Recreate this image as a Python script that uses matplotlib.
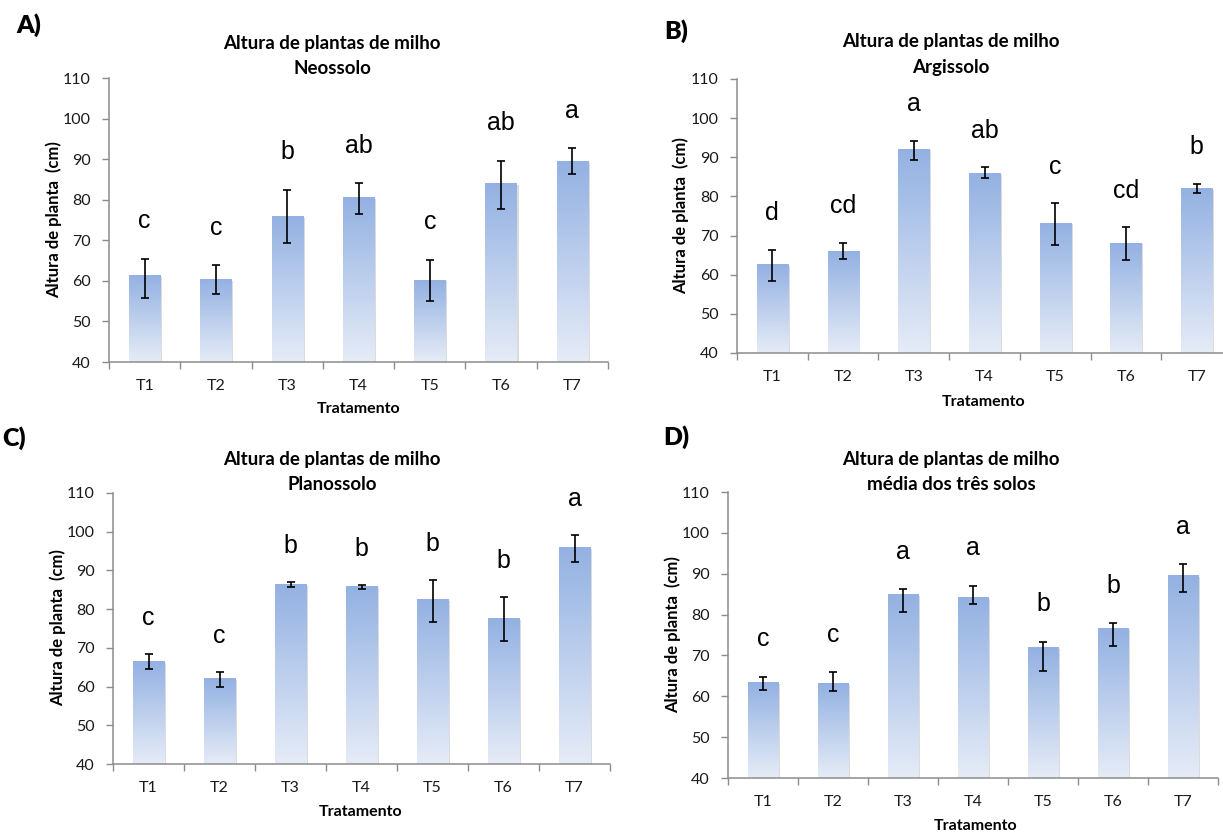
import numpy as np
import matplotlib
matplotlib.use("Agg")
import matplotlib.pyplot as plt
from matplotlib.colors import LinearSegmentedColormap

# data (means, upper and lower error lengths, letters)
trat = ["T1", "T2", "T3", "T4", "T5", "T6", "T7"]

media_a = [61.2, 60.4, 75.9, 80.6, 60.2, 84.0, 89.4]
sup_a = [4.3, 3.5, 6.6, 3.5, 5.0, 5.6, 3.3]
inf_a = [5.4, 3.6, 6.6, 4.0, 5.2, 6.4, 3.1]
letras_a = ["c", "c", "b", "ab", "c", "ab", "a"]

media_b = [62.7, 66.0, 92.1, 85.9, 73.2, 68.1, 82.1]
sup_b = [3.7, 2.2, 2.1, 1.5, 5.0, 4.0, 1.2]
inf_b = [4.4, 1.9, 2.8, 1.3, 5.6, 4.3, 1.1]
letras_b = ["d", "cd", "a", "ab", "c", "cd", "b"]

media_c = [66.5, 62.1, 86.3, 85.9, 82.5, 77.6, 95.9]
sup_c = [1.8, 1.7, 0.6, 0.4, 4.9, 5.6, 3.2]
inf_c = [2.0, 2.2, 0.5, 0.7, 5.8, 5.7, 3.7]
letras_c = ["c", "c", "b", "b", "b", "b", "a"]

media_d = [63.3, 63.1, 84.9, 84.1, 71.9, 76.5, 89.5]
sup_d = [1.4, 2.8, 1.3, 3.0, 1.5, 1.4, 2.8]
inf_d = [1.7, 1.8, 4.3, 1.6, 5.6, 4.2, 4.0]
letras_d = ["c", "c", "a", "a", "b", "b", "a"]

subtitulos = ["Neossolo", "Argissolo", "Planossolo", "média dos três solos"]

W, H = 1223, 832
fig = plt.figure(figsize=(W / 100, H / 100), dpi=100)

cmap = LinearSegmentedColormap.from_list("grad", ["#e6ecf7", "#93b1e2"])
grad = np.linspace(0, 1, 256).reshape(-1, 1)

FONT = "Lato"
GRAY = "#8c8c8c"


def px(x, y):
    return x / W, 1 - y / H


def painel(rect, media, sup, inf, letras, sub, tag, tag_xy, title_xy, ylab_xy, xlab_xy):
    ax = fig.add_axes(rect)
    x = np.arange(len(trat))
    bars = ax.bar(x, media, width=0.44, facecolor="none", edgecolor="none")
    for b in bars:
        x0, w, h = b.get_x(), b.get_width(), b.get_height()
        # soft shadow behind each bar
        ax.bar(x0 + w / 2 + 0.025, h - 40, bottom=40 - 0.35, width=w,
               color="#9a9a9a", alpha=0.35, zorder=1)
        ax.imshow(grad, extent=(x0, x0 + w, 40, h), origin="lower",
                  cmap=cmap, aspect="auto", zorder=2)
    ax.errorbar(x, media, yerr=[inf, sup], fmt="none", ecolor="black",
                elinewidth=1.2, capsize=3.2, capthick=1.2, zorder=4)
    for xi, m, s, l in zip(x, media, sup, letras):
        ax.text(xi, m + s + 7.5, l, ha="center", va="baseline",
                fontsize=18, family="Liberation Sans")
    ax.set_xlim(-0.5, 6.5)
    ax.set_ylim(40, 110)
    ax.set_yticks(range(40, 111, 10))
    ax.set_xticks(np.arange(-0.5, 7, 1))
    ax.set_xticklabels([])
    ax.set_xticks(x, minor=True)
    ax.set_xticklabels(trat, minor=True)
    ax.tick_params(axis="x", which="minor", length=0, pad=12)
    ax.tick_params(axis="x", which="major", length=5, color=GRAY, width=1)
    ax.tick_params(axis="y", length=5, color=GRAY, width=1, pad=8)
    for lab in ax.get_xticklabels(minor=True) + ax.get_yticklabels():
        lab.set_family(FONT)
        lab.set_fontsize(11.5)
        lab.set_color("#1a1a1a")
    for s in ["top", "right"]:
        ax.spines[s].set_visible(False)
    for s in ["left", "bottom"]:
        ax.spines[s].set_color(GRAY)
        ax.spines[s].set_linewidth(1.1)

    fig.text(*px(*tag_xy), tag, fontsize=18, fontweight="heavy", family=FONT,
             ha="center", va="center")
    fig.text(*px(title_xy[0], title_xy[1]), "Altura de plantas de milho",
             fontsize=13.5, fontweight="bold", family=FONT, ha="center", va="center")
    fig.text(*px(title_xy[0], title_xy[2]), sub,
             fontsize=13.5, fontweight="bold", family=FONT, ha="center", va="center")
    fig.text(*px(*ylab_xy), "Altura de planta  (cm)", rotation=90, fontsize=12,
             fontweight="bold", family=FONT, ha="center", va="center")
    fig.text(*px(*xlab_xy), "Tratamento", fontsize=11.5, fontweight="bold",
             family=FONT, ha="center", va="center")
    return ax


painel([109 / W, 1 - 362 / H, 499 / W, 284 / H], media_a, sup_a, inf_a, letras_a,
       subtitulos[0], "A)", (29, 25), (332, 43, 68), (54, 220), (359, 409))
painel([737 / W, 1 - 353 / H, 495 / W, 274 / H], media_b, sup_b, inf_b, letras_b,
       subtitulos[1], "B)", (676, 31), (951, 42, 67), (681, 216), (984, 402))
painel([113 / W, 1 - 764 / H, 497 / W, 271 / H], media_c, sup_c, inf_c, letras_c,
       subtitulos[2], "C)", (14, 438), (332, 460, 485), (58, 628), (361, 812))
painel([728 / W, 1 - 778 / H, 490 / W, 286 / H], media_d, sup_d, inf_d, letras_d,
       subtitulos[3], "D)", (676, 437), (951, 460, 484), (673, 635), (976, 826))

fig.savefig("out.png", dpi=100)
